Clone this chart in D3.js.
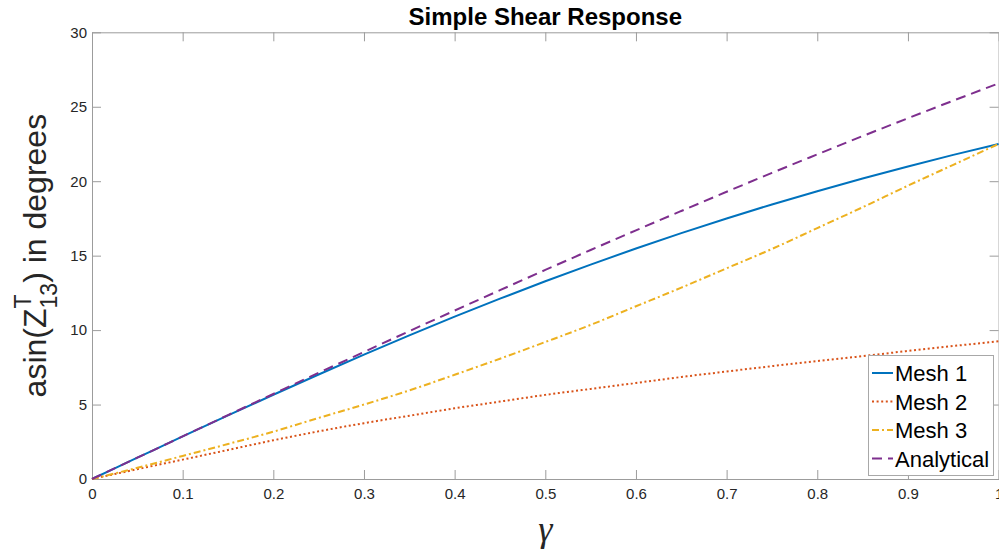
<!DOCTYPE html>
<html>
<head>
<meta charset="utf-8">
<script src="https://cdn.jsdelivr.net/npm/d3@7"></script>
<style>
  body { margin: 0; background: #fff; }
  svg { display: block; font-family: "Liberation Sans", Arial, sans-serif; }
</style>
</head>
<body>
<svg id="chart" width="999" height="552"></svg>
<script>
// shear strain values (x axis)
const gamma = [0, 0.05, 0.1, 0.15, 0.2, 0.25, 0.3, 0.35, 0.4, 0.45, 0.5,
  0.55, 0.6, 0.65, 0.7, 0.75, 0.8, 0.85, 0.9, 0.95, 1];

// angle in degrees
const mesh1 = [0, 1.43, 2.86, 4.27, 5.66, 7.02, 8.35, 9.65, 10.9, 12.11, 13.28,
  14.4, 15.48, 16.51, 17.5, 18.44, 19.33, 20.18, 20.99, 21.77, 22.5];
const mesh2 = [0, 0.66, 1.3, 1.95, 2.6, 3.2, 3.75, 4.25, 4.75, 5.2, 5.65,
  6.05, 6.45, 6.85, 7.22, 7.58, 7.92, 8.25, 8.6, 8.93, 9.25];
const mesh3 = [0, 0.75, 1.55, 2.35, 3.18, 4.1, 5.0, 5.95, 7.0, 8.08, 9.2,
  10.35, 11.6, 12.85, 14.15, 15.45, 16.85, 18.25, 19.7, 21.1, 22.5];
const analytical = [0, 1.43, 2.86, 4.29, 5.71, 7.13, 8.53, 9.93, 11.31, 12.68, 14.04,
  15.38, 16.7, 18.0, 19.29, 20.56, 21.8, 23.03, 24.23, 25.41, 26.57];

const seriesNames = ["Mesh 1", "Mesh 2", "Mesh 3", "Analytical"];
const xTicks = [0, 0.1, 0.2, 0.3, 0.4, 0.5, 0.6, 0.7, 0.8, 0.9, 1];
const yTicks = [0, 5, 10, 15, 20, 25, 30];

const series = [
  { name: seriesNames[0], values: mesh1, color: "#0072BD", dash: null },
  { name: seriesNames[1], values: mesh2, color: "#D95319", dash: "2,2.6" },
  { name: seriesNames[2], values: mesh3, color: "#EDB120", dash: "7,3,2,3" },
  { name: seriesNames[3], values: analytical, color: "#7E2F8E", dash: "10,6" }
];

const svg = d3.select("#chart");
const plotLeft = 92, plotRight = 998.6, plotTop = 32.3, plotBottom = 479;

const x = d3.scaleLinear().domain([0, 1]).range([plotLeft, plotRight]);
const y = d3.scaleLinear().domain([0, 30]).range([plotBottom, plotTop]);

const axisColor = "#9c9c9c";
const textColor = "#262626";

function styleAxis(g) {
  g.attr("font-family", null).attr("font-size", null);
  g.select(".domain").attr("stroke", axisColor);
  g.selectAll(".tick line").attr("stroke", axisColor);
  g.selectAll(".tick text").attr("fill", textColor)
    .style("font-size", "15px");
}

// bottom axis
svg.append("g")
  .attr("transform", `translate(0,${plotBottom})`)
  .call(d3.axisBottom(x).tickValues(xTicks).tickFormat(d3.format("")).tickSize(-9).tickSizeOuter(0).tickPadding(9))
  .call(styleAxis);

// top axis (box)
svg.append("g")
  .attr("transform", `translate(0,${plotTop})`)
  .call(d3.axisTop(x).tickValues(xTicks).tickFormat("").tickSize(-9).tickSizeOuter(0))
  .call(styleAxis);

// left axis
svg.append("g")
  .attr("transform", `translate(${plotLeft},0)`)
  .call(d3.axisLeft(y).tickValues(yTicks).tickSize(-9).tickSizeOuter(0).tickPadding(5))
  .call(styleAxis);

// right axis (box)
svg.append("g")
  .attr("transform", `translate(${plotRight},0)`)
  .call(d3.axisRight(y).tickValues(yTicks).tickFormat("").tickSize(-9).tickSizeOuter(0))
  .call(styleAxis);

// lines
const line = d3.line()
  .x((d, i) => x(gamma[i]))
  .y(d => y(d))
  .curve(d3.curveMonotoneX);

svg.append("g")
  .selectAll("path")
  .data(series)
  .join("path")
  .attr("fill", "none")
  .attr("stroke", d => d.color)
  .attr("stroke-width", 2)
  .attr("stroke-dasharray", d => d.dash)
  .attr("d", d => line(d.values));

// title
svg.append("text")
  .attr("x", (plotLeft + plotRight) / 2)
  .attr("y", 25)
  .attr("text-anchor", "middle")
  .style("font-weight", "bold")
  .style("font-size", "24px")
  .attr("fill", "#000")
  .text("Simple Shear Response");

// x label
svg.append("text")
  .attr("x", (plotLeft + plotRight) / 2)
  .attr("y", 541)
  .attr("text-anchor", "middle")
  .style("font-family", "'Liberation Serif', 'Times New Roman', serif")
  .style("font-style", "italic")
  .style("font-size", "36px")
  .attr("fill", textColor)
  .text("\u03B3");

// y label with super/subscript
const yl = svg.append("text")
  .attr("transform", `translate(46,${(plotTop + plotBottom) / 2}) rotate(-90)`)
  .attr("text-anchor", "middle")
  .style("font-size", "32px")
  .attr("fill", textColor);
yl.append("tspan").text("asin(Z");
yl.append("tspan").attr("dy", -15).style("font-size", "23px").text("T");
yl.append("tspan").attr("dx", -14).attr("dy", 26).style("font-size", "23px").text("13");
yl.append("tspan").attr("dy", -11).text(") in degrees");

// legend
const lg = svg.append("g").attr("transform", "translate(868,355)");
lg.append("rect")
  .attr("x", 0.5).attr("y", 0.5)
  .attr("width", 125).attr("height", 120)
  .attr("fill", "#fff")
  .attr("stroke", "#a8a8a8");

const rows = lg.selectAll("g.row")
  .data(series)
  .join("g")
  .attr("class", "row")
  .attr("transform", (d, i) => `translate(0,${18 + i * 28.5})`);

rows.append("line")
  .attr("x1", 4).attr("x2", 25)
  .attr("stroke", d => d.color)
  .attr("stroke-width", 2)
  .attr("stroke-dasharray", d => d.dash);

rows.append("text")
  .attr("x", 27)
  .attr("y", 8)
  .style("font-size", "22px")
  .attr("fill", "#000")
  .text(d => d.name);
</script>
</body>
</html>
